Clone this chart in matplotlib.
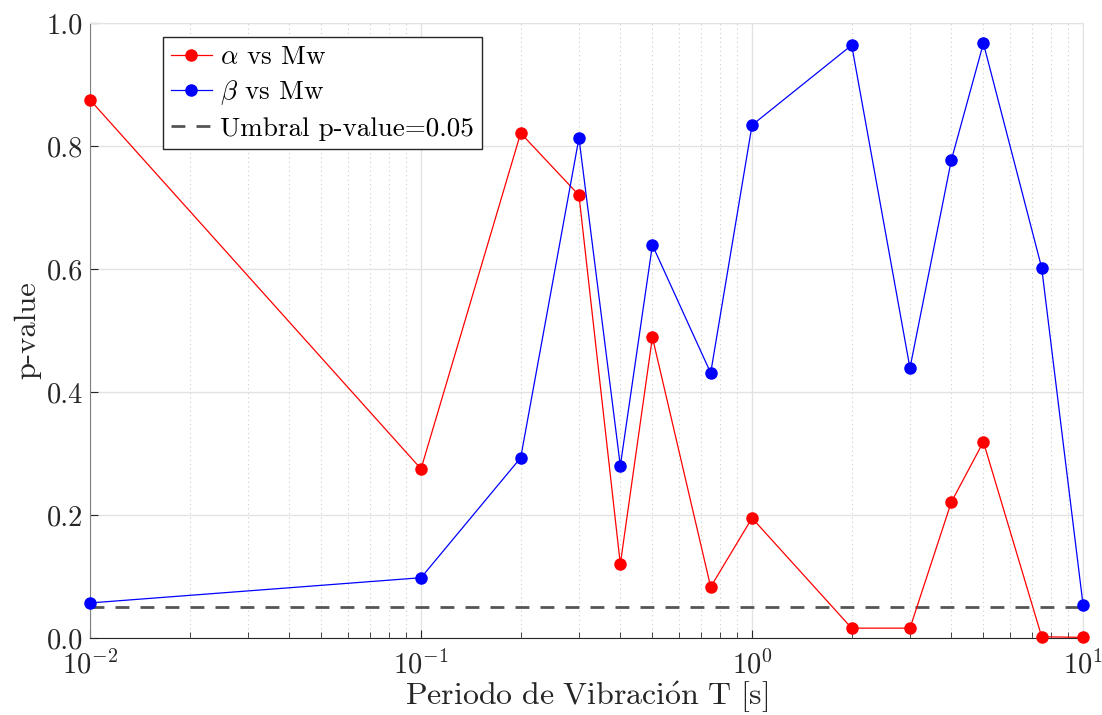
import numpy as np
import matplotlib
matplotlib.use('Agg')
import matplotlib.pyplot as plt
from matplotlib.ticker import FormatStrFormatter, LogLocator

# Fonts close to the LaTeX look
plt.rcParams['font.family'] = 'serif'
plt.rcParams['font.serif'] = ['cmr10']
plt.rcParams['mathtext.fontset'] = 'cm'
plt.rcParams['axes.formatter.use_mathtext'] = True
plt.rcParams['axes.unicode_minus'] = False

# Data
periodos = [0.01, 0.1, 0.2, 0.3, 0.4, 0.5, 0.75, 1.0, 2.0, 3.0, 4.0, 5.0, 7.5, 10.0]
p_alpha = [0.875, 0.275, 0.821, 0.720, 0.120, 0.489, 0.083, 0.195, 0.016, 0.016, 0.221, 0.319, 0.002, 0.001]
p_beta = [0.057, 0.098, 0.293, 0.813, 0.280, 0.639, 0.431, 0.834, 0.964, 0.439, 0.777, 0.967, 0.602, 0.054]
umbral = 0.05

fig = plt.figure(figsize=(11.02, 7.15), dpi=100)
ax = fig.add_axes([0.0817, 0.1077, 0.9011, 0.8601])

ax.plot(periodos, p_alpha, '-o', color='red', lw=0.9, ms=8, clip_on=False, zorder=3,
        label=r'$\alpha$ vs Mw')
ax.plot(periodos, p_beta, '-o', color='blue', lw=0.9, ms=8, clip_on=False, zorder=3,
        label=r'$\beta$ vs Mw')
ax.axhline(umbral, color='#555555', ls='--', lw=2, dashes=(5, 4), zorder=2,
           label='Umbral p-value=0.05')

ax.set_xscale('log')
ax.set_xlim(0.01, 10)
ax.set_ylim(0, 1)
ax.set_yticks(np.arange(0, 1.01, 0.2))
ax.yaxis.set_major_formatter(FormatStrFormatter('%.1f'))
ax.xaxis.set_minor_locator(LogLocator(base=10, subs=np.arange(2, 10)))

# grid
ax.grid(True, which='major', axis='both', color='#e3e3e3', lw=1, zorder=0)
ax.grid(True, which='minor', axis='x', color='#cccccc', lw=0.8, ls=(0, (1, 3)), zorder=0)
ax.set_axisbelow(True)

for s in ['top', 'right']:
    ax.spines[s].set_color('#e3e3e3')
ax.spines['bottom'].set_color('#262626')
ax.spines['left'].set_color('#808080')

ax.tick_params(which='both', direction='in', top=False, right=False, labelsize=20.5,
               colors='#262626')
ax.tick_params(axis='x', pad=9)
ax.tick_params(axis='y', pad=5)
ax.tick_params(which='major', length=6)
ax.tick_params(which='minor', length=4)

ax.set_xlabel(r'$\mathrm{Periodo\ de\ Vibraci\acute{o}n\ T\ [s]}$', fontsize=23,
              color='#262626', labelpad=0)
ax.set_ylabel('p-value', fontsize=22, color='#262626', labelpad=4)

leg = ax.legend(loc='upper left', bbox_to_anchor=(0.0735, 0.977), borderaxespad=0,
                fontsize=19.5, fancybox=False, framealpha=1, edgecolor='#262626',
                handlelength=1.5, handletextpad=0.3, borderpad=0.3, labelspacing=0.35)
leg.get_frame().set_linewidth(1)

fig.savefig('out.png', dpi=100)
